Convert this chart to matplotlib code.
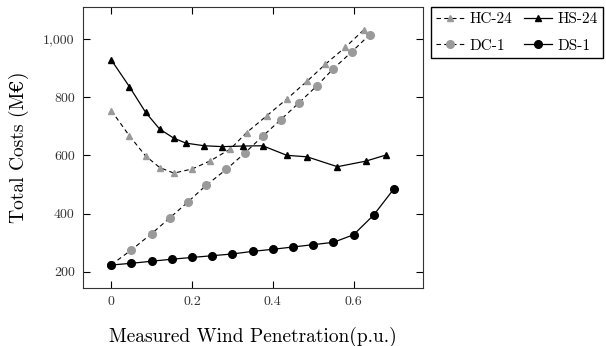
import matplotlib
matplotlib.use("Agg")
import matplotlib.pyplot as plt
from matplotlib.ticker import FuncFormatter

plt.rcParams['font.family'] = ['cmr10', 'DejaVu Serif']
plt.rcParams['mathtext.fontset'] = 'cm'
plt.rcParams['axes.unicode_minus'] = False

# HC-24 (gray triangles, dashed)
hc24_x = [0, 0.045, 0.085, 0.12, 0.155, 0.2, 0.245, 0.295, 0.335, 0.385, 0.435, 0.485, 0.53, 0.58, 0.625]
hc24_y = [754, 667, 598, 558, 539, 553, 581, 622, 678, 736, 794, 855, 913, 972, 1031]

# HS-24 (black triangles, solid)
hs24_x = [0, 0.045, 0.085, 0.12, 0.155, 0.185, 0.23, 0.275, 0.325, 0.375, 0.435, 0.485, 0.56, 0.63, 0.68]
hs24_y = [928, 836, 748, 690, 659, 642, 633, 630, 632, 633, 600, 595, 561, 580, 601]

# DC-1 (gray circles, dashed)
dc1_x = [0, 0.05, 0.1, 0.145, 0.19, 0.235, 0.285, 0.33, 0.375, 0.42, 0.465, 0.51, 0.55, 0.595, 0.64]
dc1_y = [224, 275, 331, 385, 440, 497, 552, 607, 666, 723, 781, 840, 898, 955, 1015]

# DS-1 (black circles, solid)
ds1_x = [0, 0.05, 0.1, 0.15, 0.2, 0.25, 0.3, 0.35, 0.4, 0.45, 0.5, 0.55, 0.6, 0.65, 0.7]
ds1_y = [223, 229, 236, 243, 249, 255, 261, 270, 277, 285, 293, 301, 327, 395, 485]

gray = '#9a9a9a'

fig = plt.figure(figsize=(6.06, 3.46), dpi=100)
ax = fig.add_axes([83/606, 1 - 288/346, 340/606, 281/346])

l1, = ax.plot(hc24_x, hc24_y, ls=(0, (4, 3)), color='black', lw=0.8,
              marker='^', ms=5, mfc=gray, mec=gray, label='HC-24')
l3, = ax.plot(dc1_x, dc1_y, ls=(0, (4, 3)), color='black', lw=0.8,
              marker='o', ms=5.5, mfc=gray, mec=gray, label='DC-1')
l2, = ax.plot(hs24_x, hs24_y, ls='-', color='black', lw=0.9,
              marker='^', ms=5, mfc='black', mec='black', label='HS-24')
l4, = ax.plot(ds1_x, ds1_y, ls='-', color='black', lw=0.9,
              marker='o', ms=5.5, mfc='black', mec='black', label='DS-1')

ax.set_xlim(-0.07, 0.772)
ax.set_ylim(144, 1110)
ax.set_xticks([0, 0.2, 0.4, 0.6])
ax.set_yticks([200, 400, 600, 800, 1000])
ax.xaxis.set_major_formatter(FuncFormatter(lambda v, p: '0' if v == 0 else f'{v:.1f}'))
ax.yaxis.set_major_formatter(FuncFormatter(lambda v, p: f'{int(v):,}'))
ax.tick_params(direction='in', top=True, right=True, length=5, width=0.8,
               labelsize=10, pad=6, labelcolor='#333333')
for s in ax.spines.values():
    s.set_linewidth(0.8)
    s.set_color('#333333')

ax.set_xlabel('Measured Wind Penetration(p.u.)', fontsize=14, labelpad=13)
ax.set_ylabel('Total Costs (M€)', fontsize=14, labelpad=10)

fig.legend(handles=[l1, l3, l2, l4], loc='upper left',
           bbox_to_anchor=(431/606, 1 - 7/346), ncol=2, fontsize=11,
           fancybox=False, edgecolor='black', framealpha=1,
           handlelength=1.8, handletextpad=0.35, columnspacing=0.8,
           borderpad=0.35, labelspacing=0.85, borderaxespad=0)

fig.savefig('out.png', dpi=100)
